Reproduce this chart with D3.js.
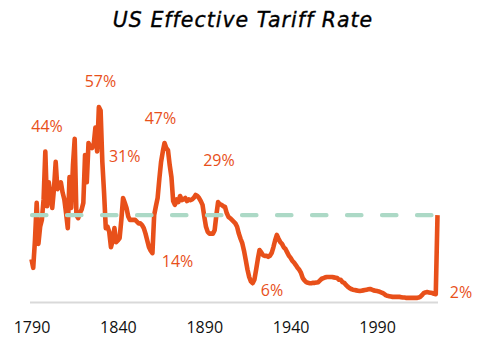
<!DOCTYPE html>
<html>
<head>
<meta charset="utf-8">
<script src="https://cdn.jsdelivr.net/npm/d3@7"></script>
<style>
  html, body { margin: 0; padding: 0; background: #fff; }
  svg { display: block; }
</style>
</head>
<body>
<svg id="chart" width="493" height="357"></svg>
<script>
// ---- data ----
const years = [
  1790,1791,1792,1793,1794,1795,1796,1797,1798,1799,
  1800,1801,1802,1803,1804,1805,1806,1807,1808,1809,
  1810,1811,1812,1813,1814,1815,1816,1817,1818,1819,
  1820,1821,1822,1823,1824,1825,1826,1827,1828,1829,
  1830,1831,1832,1833,1834,1835,1836,1837,1838,1839,
  1840,1841,1842,1843,1844,1845,1846,1847,1848,1849,
  1850,1851,1852,1853,1854,1855,1856,1857,1858,1859,
  1860,1861,1862,1863,1864,1865,1866,1867,1868,1869,
  1870,1871,1872,1873,1874,1875,1876,1877,1878,1879,
  1880,1881,1882,1883,1884,1885,1886,1887,1888,1889,
  1890,1891,1892,1893,1894,1895,1896,1897,1898,1899,
  1900,1901,1902,1903,1904,1905,1906,1907,1908,1909,
  1910,1911,1912,1913,1914,1915,1916,1917,1918,1919,
  1920,1921,1922,1923,1924,1925,1926,1927,1928,1929,
  1930,1931,1932,1933,1934,1935,1936,1937,1938,1939,
  1940,1941,1942,1943,1944,1945,1946,1947,1948,1949,
  1950,1951,1952,1953,1954,1955,1956,1957,1958,1959,
  1960,1961,1962,1963,1964,1965,1966,1967,1968,1969,
  1970,1971,1972,1973,1974,1975,1976,1977,1978,1979,
  1980,1981,1982,1983,1984,1985,1986,1987,1988,1989,
  1990,1991,1992,1993,1994,1995,1996,1997,1998,1999,
  2000,2001,2002,2003,2004,2005,2006,2007,2008,2009,
  2010,2011,2012,2013,2014,2015,2016,2017,2018,2019,
  2020,2021,2022,2023,2024,2025
];
const tariffRate = [
  12.5,10,18,29,17,22,24,30,44,28,
  35,31,27.5,33,41,33,34,35,32,30,
  26,21.6,36.5,27.5,40,47.7,25.4,24.5,26,27,
  29,43,35,46.5,45.5,45,46,51,44,57,
  56,41,32,21.6,22,20.5,16,18,21.6,17.5,
  18,18.7,24,30.4,29,27.5,25,24,24,24,
  24,23.5,23,23,22.5,21.6,20,18,16,15,
  14.3,25.4,28,30.4,36,41,44,46.5,45,44.4,
  40,36.5,29.5,28.4,30,29.2,31,29.8,30,30.4,
  29.5,30,29.8,30,30.5,31.3,31,30.4,29.5,28.4,
  25,22,20.5,20,20,20,21,25.4,29.2,28.6,
  28.4,28,27.8,26,24.9,24.5,24,23.5,23,22,
  20,18.5,17.2,15,12.3,9.5,7.3,6,5.5,6.5,
  9.4,12.5,15.2,14.5,13.7,13.5,13.5,13.2,13.5,14.3,
  16,18,19.6,18.5,17.5,17,16,15.5,14.5,13.5,
  12.9,12,11.5,10.8,10,9.4,8.5,7,6.3,5.8,
  5.6,5.5,5.5,5.6,5.6,5.7,5.8,6.3,6.8,7,
  7.2,7.3,7.3,7.3,7.3,7.2,7.1,7,6.5,6.5,
  5.8,5.6,5,4.5,4.1,3.8,3.6,3.5,3.4,3.3,
  3.2,3.3,3.4,3.5,3.6,3.7,3.8,3.6,3.4,3.3,
  3.2,3.1,2.9,2.7,2.4,2,1.8,1.7,1.6,1.5,
  1.5,1.5,1.5,1.5,1.4,1.3,1.3,1.2,1.2,1.2,
  1.2,1.2,1.2,1.2,1.3,1.5,2,2.6,2.8,2.9,
  2.8,2.7,2.6,2.4,2.3,25.4
];
const referenceRate = 25.4;   // dashed line level (2025)
const tickYears = [1790, 1840, 1890, 1940, 1990];
const annotYears  = [1799, 1829, 1868, 1843, 1860, 1898, 1918, 2024];
const annotValues = [44, 57, 47, 31, 14, 29, 6, 2];
const annotTexts  = ["44%", "57%", "47%", "31%", "14%", "29%", "6%", "2%"];
// label offsets in px relative to the annotated data point (layout, not data)
const annotDx = [0, 1.6, -5.8, 1.6, 25.1, 0.9, 19.4, 25.2];
const annotDy = [-20, -20.5, -17.3, -34, 12.4, -36.4, 15, 3.3];
const title = "US Effective Tariff Rate";

// ---- chart ----
const svg = d3.select("#chart");
const orange = "#E8501A";

const x = d3.scaleLinear().domain([1790, 2025]).range([31.5, 437.5]);
const y = d3.scaleLinear().domain([0, 60]).range([302, 96.8]);

// axis baseline
svg.append("line")
  .attr("x1", 30).attr("x2", 438)
  .attr("y1", y(0) + 0.5).attr("y2", y(0) + 0.5)
  .attr("stroke", "#d9d9d9").attr("stroke-width", 2);

// axis tick labels
const axis = d3.axisBottom(x).tickValues(tickYears).tickSize(0).tickPadding(0)
  .tickFormat(d3.format("d"));
const gAxis = svg.append("g").attr("transform", `translate(0,${y(0)})`).call(axis);
gAxis.select(".domain").remove();
gAxis.selectAll("text")
  .attr("y", 31).attr("dy", null)
  .attr("font-family", "'Open Sans', sans-serif")
  .attr("font-size", 16)
  .attr("fill", "#111");

// main line
const data = years.map((yr, i) => ({ year: yr, value: tariffRate[i] }));
const line = d3.line().x(d => x(d.year)).y(d => y(d.value));
svg.append("path")
  .datum(data)
  .attr("d", line)
  .attr("fill", "none")
  .attr("stroke", orange)
  .attr("stroke-width", 4.6)
  .attr("stroke-linejoin", "round")
  .attr("stroke-linecap", "butt");

// dashed reference line (drawn above the orange line)
svg.append("line")
  .attr("x1", x(1790) + 0.5).attr("x2", x(2025) - 6)
  .attr("y1", y(referenceRate)).attr("y2", y(referenceRate))
  .attr("stroke", "#ACD9C6")
  .attr("stroke-width", 4.2)
  .attr("stroke-linecap", "round")
  .attr("stroke-dasharray", "14.5,20.5");

// annotations
const annots = annotTexts.map((t, i) => ({ text: t, year: annotYears[i], value: annotValues[i], dx: annotDx[i], dy: annotDy[i] }));
svg.append("g").selectAll("text")
  .data(annots)
  .join("text")
  .attr("x", d => x(d.year) + d.dx)
  .attr("y", d => y(d.value) + d.dy)
  .attr("text-anchor", "middle")
  .attr("font-family", "'Open Sans', sans-serif")
  .attr("font-size", 16)
  .attr("fill", orange)
  .text(d => d.text);

// title
svg.append("text")
  .attr("x", 243).attr("y", 27)
  .attr("text-anchor", "middle")
  .attr("font-family", "'DejaVu Sans', sans-serif")
  .attr("font-style", "italic")
  .attr("font-size", 20.5)
  .attr("letter-spacing", 1)
  .attr("fill", "#000")
  .attr("stroke", "#000")
  .attr("stroke-width", 0.35)
  .text(title);
</script>
</body>
</html>
